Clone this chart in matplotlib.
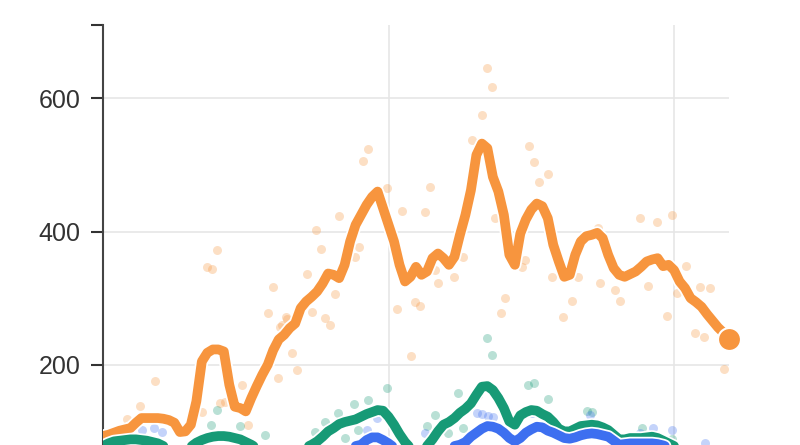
import matplotlib
matplotlib.use("Agg")
import matplotlib.pyplot as plt
import matplotlib.patheffects as pe
from matplotlib.ticker import FixedLocator

plt.rcParams['font.family'] = ['Liberation Sans', 'DejaVu Sans']

# weekly index (0 .. 114); grid lines mark week 52 and 104
weeks = list(range(115))

orange_line = [93, 95, 98, 101, 103, 105, 113, 120, 120, 120,
               120, 119, 117, 113, 99, 100, 110, 145, 205, 218,
               223, 223, 220, 170, 137, 135, 130, 150, 168, 185,
               200, 222, 238, 245, 255, 262, 285, 295, 302, 310,
               322, 337, 335, 330, 350, 385, 410, 425, 440, 452,
               460, 435, 410, 385, 350, 325, 332, 347, 335, 340,
               360, 367, 360, 350, 362, 395, 425, 462, 515, 532,
               525, 482, 460, 425, 365, 350, 397, 418, 433, 442,
               438, 420, 380, 355, 332, 335, 365, 385, 393, 395,
               398, 390, 365, 345, 335, 332, 336, 340, 347, 355,
               358, 360, 348, 350, 342, 325, 315, 300, 294, 287,
               276, 266, 256, 248, 238]

green_line = [78, 82, 85, 86, 87, 88, 88, 87, 86, 84,
              82, 78, 74, 72, 70, 72, 77, 83, 87, 90,
              92, 93, 93, 92, 90, 88, 84, 80, 75, 70,
              66, 64, 63, 64, 66, 68, 72, 76, 80, 85,
              92, 100, 105, 111, 114, 116, 118, 122, 126, 129,
              132, 131, 122, 110, 96, 84, 75, 70, 72, 78,
              88, 100, 110, 114, 120, 128, 134, 142, 155, 167,
              168, 162, 150, 135, 115, 110, 124, 129, 132, 131,
              126, 122, 114, 104, 100, 100, 104, 108, 109, 110,
              109, 106, 102, 95, 88, 88, 90, 90, 90, 91,
              92, 90, 86, 82, 78, 75, 74, 72, 70, 70,
              68, 66, 64, 62, 60]

blue_line = [62, 63, 65, 66, 68, 70, 71, 72, 72, 72,
             71, 70, 68, 66, 64, 63, 63, 64, 66, 68,
             70, 71, 71, 70, 68, 66, 64, 62, 60, 58,
             57, 56, 56, 57, 58, 60, 62, 64, 66, 68,
             70, 72, 73, 74, 75, 76, 78, 80, 87, 91,
             91, 87, 82, 76, 70, 65, 61, 59, 60, 62,
             66, 70, 73, 75, 78, 80, 84, 92, 98, 104,
             108, 107, 104, 98, 90, 85, 90, 98, 103, 107,
             106, 101, 98, 94, 90, 89, 91, 94, 96, 97,
             96, 94, 92, 86, 80, 81, 82, 82, 82, 82,
             82, 81, 79, 76, 74, 72, 70, 68, 66, 64,
             62, 60, 58, 56, 55]

orange_dots_x = [4.4, 6.7, 9.5, 9.1, 18.0, 21.3, 22.2, 25.3, 26.4, 18.9,
                 19.9, 20.8, 30.1, 31.0, 31.9, 32.6, 33.5, 32.2, 33.3, 34.4,
                 35.3, 37.2, 38.1, 38.8, 39.7, 40.4, 41.3, 42.3, 43.0, 45.9,
                 46.6, 47.4, 48.3, 51.7, 53.6, 54.5, 56.1, 56.8, 57.7, 58.7,
                 59.6, 60.5, 61.0, 63.9, 65.6, 67.2, 69.0, 69.9, 70.9, 71.4,
                 72.5, 73.2, 76.3, 76.9, 77.6, 78.5, 79.4, 81.1, 81.8, 83.8,
                 85.4, 86.5, 90.5, 90.2, 93.3, 94.2, 97.8, 99.3, 100.9, 102.7,
                 103.6, 104.6, 106.2, 107.8, 108.7, 109.5, 110.6, 113.1]
orange_dots_y = [119, 138, 176, 120, 129, 143, 144, 170, 110, 347,
                 344, 372, 278, 317, 180, 260, 269, 257, 272, 218,
                 192, 336, 279, 402, 374, 270, 260, 306, 424, 362,
                 377, 506, 524, 466, 284, 431, 213, 294, 288, 430,
                 467, 342, 323, 332, 362, 538, 575, 646, 617, 420,
                 278, 300, 347, 357, 529, 505, 474, 487, 332, 272,
                 296, 332, 323, 405, 312, 296, 420, 318, 415, 273,
                 425, 308, 348, 248, 317, 242, 315, 194]

green_dots_x = [4.9, 19.7, 20.8, 25.0, 29.5, 38.6, 40.4, 42.8, 44.1, 45.7,
                46.4, 48.3, 51.7, 59.0, 60.5, 62.8, 64.7, 65.6, 68.3, 69.9,
                70.9, 77.4, 78.5, 81.1, 88.2, 89.1, 98.2, 103.6]
green_dots_y = [90, 110, 132, 108, 95, 99, 114, 128, 90, 141,
                102, 147, 165, 108, 125, 98, 158, 105, 155, 240,
                215, 170, 173, 149, 131, 129, 105, 89]

blue_dots_x = [7.1, 9.3, 10.7, 48.1, 49.9, 58.7, 68.1, 69.0, 70.1, 71.0,
               78.1, 88.7, 97.8, 100.2, 103.6, 109.7]
blue_dots_y = [102, 105, 99, 102, 120, 98, 128, 126, 123, 122,
               128, 125, 98, 105, 102, 83]

y_ticks = [200, 400, 600]
y_tick_labels = ['200', '400', '600']

ORANGE = '#f7953e'
GREEN = '#179a76'
BLUE = '#3d6ff0'

fig = plt.figure(figsize=(8, 4.45), dpi=100)
ax = fig.add_axes([103 / 800, -53 / 445, 626 / 800, 473 / 445])
ax.set_xlim(0, 114)
ax.set_ylim(0, 710)

ax.set_xticks([0, 52, 104])
ax.set_xticklabels([])
ax.set_yticks(y_ticks)
ax.set_yticklabels(y_tick_labels)
ax.yaxis.set_minor_locator(FixedLocator([710]))
ax.grid(True, which='major', color='#e6e6e6', linewidth=1.2)
ax.set_axisbelow(True)

for s in ['top', 'right', 'bottom']:
    ax.spines[s].set_visible(False)
ax.spines['left'].set_color('#444444')
ax.spines['left'].set_linewidth(1.5)
ax.tick_params(axis='y', which='both', length=9, width=1.5, color='#333333',
               labelsize=18, labelcolor='#333333', pad=7)
ax.tick_params(axis='x', length=0)

ax.scatter(orange_dots_x, orange_dots_y, s=42, color=ORANGE, alpha=0.3,
           linewidths=0, zorder=2)
ax.scatter(green_dots_x, green_dots_y, s=42, color=GREEN, alpha=0.3,
           linewidths=0, zorder=2)
ax.scatter(blue_dots_x, blue_dots_y, s=42, color=BLUE, alpha=0.3,
           linewidths=0, zorder=2)

halo = [pe.Stroke(linewidth=9.5, foreground='white'), pe.Normal()]
for vals, col, z in [(orange_line, ORANGE, 3), (green_line, GREEN, 4),
                     (blue_line, BLUE, 5)]:
    ax.plot(weeks, vals, color=col, linewidth=7, solid_capstyle='round',
            solid_joinstyle='round', path_effects=halo, zorder=z)

ax.plot([weeks[-1]], [orange_line[-1]], 'o', color=ORANGE, markersize=16.5,
        markeredgecolor='white', markeredgewidth=1.5, clip_on=False, zorder=6)

fig.savefig('out.png', dpi=100)
